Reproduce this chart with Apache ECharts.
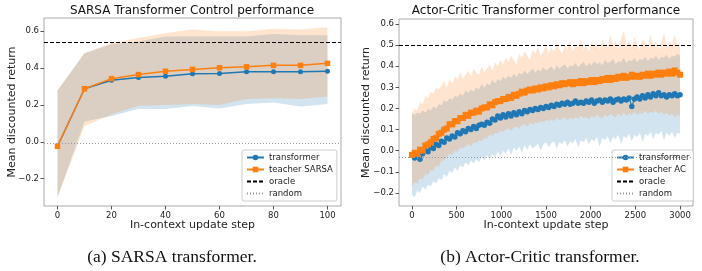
<!doctype html>
<html lang="en">
<head>
    <meta charset="UTF-8">
    <title>SARSA / Actor-Critic transformer</title>
    <script src="https://cdn.jsdelivr.net/npm/echarts@6/dist/echarts.min.js"></script>
    <style>
        html, body { margin: 0; padding: 0; background: #fff; }
        #chart { width: 702px; height: 271px; }
    </style>
</head>
<body>
<div id="chart"></div>
<script>
    // ---- (a) SARSA transformer ----
    const sarsaSteps = [0, 10, 20, 30, 40, 50, 60, 70, 80, 90, 100]
    const sarsaTransformer = [-0.024, 0.288, 0.334, 0.349, 0.356, 0.369, 0.371, 0.38, 0.38, 0.38, 0.383]
    const sarsaTeacher = [-0.024, 0.288, 0.343, 0.365, 0.383, 0.393, 0.402, 0.407, 0.415, 0.415, 0.426]
    const sarsaTransformerHi = [0.279, 0.481, 0.53, 0.545, 0.572, 0.572, 0.572, 0.572, 0.585, 0.578, 0.578]
    const sarsaTransformerLo = [-0.3, 0.11, 0.14, 0.178, 0.178, 0.195, 0.181, 0.205, 0.214, 0.192, 0.205]
    const sarsaTeacherHi = [0.279, 0.481, 0.536, 0.564, 0.591, 0.609, 0.6, 0.6, 0.613, 0.61, 0.622]
    const sarsaTeacherLo = [-0.3, 0.085, 0.15, 0.196, 0.2, 0.205, 0.2, 0.233, 0.236, 0.233, 0.246]
    const sarsaOracle = 0.535
    const sarsaRandom = -0.005
    const sarsaXTicks = [0, 20, 40, 60, 80, 100]
    const sarsaYTicks = [-0.2, 0.0, 0.2, 0.4, 0.6]

    // ---- (b) Actor-Critic transformer (one point every 30 steps) ----
    const acTransformer = [
        -0.02, -0.035, -0.01, -0.04, -0.015, 0.0, -0.005, 0.015, 0.01, 0.03,
        0.025, 0.045, 0.04, 0.06, 0.055, 0.07, 0.065, 0.085, 0.08, 0.095,
        0.09, 0.105, 0.1, 0.115, 0.105, 0.12, 0.125, 0.12, 0.135, 0.13,
        0.15, 0.145, 0.165, 0.155, 0.17, 0.16, 0.175, 0.165, 0.18, 0.17,
        0.185, 0.175, 0.19, 0.185, 0.195, 0.19, 0.2, 0.195, 0.205, 0.2,
        0.21, 0.205, 0.215, 0.21, 0.22, 0.215, 0.225, 0.22, 0.23, 0.22,
        0.225, 0.235, 0.225, 0.23, 0.225, 0.235, 0.23, 0.24, 0.225, 0.235,
        0.24, 0.23, 0.24, 0.235, 0.245, 0.23, 0.24, 0.245, 0.235, 0.245,
        0.24, 0.25, 0.21, 0.245, 0.255, 0.245, 0.26, 0.25, 0.265, 0.255,
        0.27, 0.26, 0.275, 0.26, 0.265, 0.255, 0.265, 0.26, 0.27, 0.26,
        0.265
    ]
    const acTeacher = [
        -0.02, -0.01, -0.015, 0.005, 0.0, 0.025, 0.03, 0.04, 0.055, 0.06,
        0.08, 0.085, 0.1, 0.105, 0.125, 0.125, 0.14, 0.14, 0.155, 0.155,
        0.17, 0.165, 0.18, 0.18, 0.19, 0.185, 0.2, 0.205, 0.205, 0.22,
        0.215, 0.23, 0.235, 0.235, 0.245, 0.245, 0.255, 0.25, 0.265, 0.26,
        0.27, 0.28, 0.275, 0.285, 0.29, 0.285, 0.295, 0.29, 0.3, 0.295,
        0.305, 0.3, 0.31, 0.305, 0.315, 0.31, 0.32, 0.315, 0.32, 0.325,
        0.315, 0.325, 0.32, 0.33, 0.32, 0.33, 0.325, 0.335, 0.325, 0.335,
        0.33, 0.34, 0.335, 0.345, 0.335, 0.345, 0.34, 0.35, 0.345, 0.355,
        0.345, 0.35, 0.36, 0.35, 0.355, 0.35, 0.36, 0.355, 0.365, 0.355,
        0.365, 0.36, 0.37, 0.36, 0.37, 0.365, 0.375, 0.365, 0.38, 0.37,
        0.36
    ]
    const acTransformerHi = [
        0.175, 0.17, 0.18, 0.175, 0.19, 0.18, 0.2, 0.19, 0.21, 0.2,
        0.22, 0.215, 0.24, 0.23, 0.25, 0.24, 0.26, 0.255, 0.27, 0.26,
        0.285, 0.275, 0.29, 0.28, 0.3, 0.29, 0.315, 0.3, 0.32, 0.31,
        0.335, 0.32, 0.34, 0.33, 0.35, 0.34, 0.355, 0.345, 0.365, 0.35,
        0.37, 0.36, 0.38, 0.365, 0.375, 0.39, 0.37, 0.385, 0.375, 0.395,
        0.38, 0.39, 0.4, 0.38, 0.405, 0.39, 0.4, 0.41, 0.39, 0.405,
        0.4, 0.415, 0.395, 0.41, 0.42, 0.4, 0.415, 0.405, 0.425, 0.41,
        0.42, 0.405, 0.43, 0.415, 0.42, 0.435, 0.41, 0.425, 0.42, 0.44,
        0.415, 0.43, 0.425, 0.44, 0.42, 0.435, 0.43, 0.445, 0.425, 0.44,
        0.435, 0.45, 0.43, 0.445, 0.44, 0.455, 0.435, 0.45, 0.445, 0.46,
        0.45
    ]
    const acTransformerLo = [
        -0.21, -0.22, -0.19, -0.2, -0.17, -0.185, -0.16, -0.17, -0.145, -0.155,
        -0.13, -0.14, -0.11, -0.125, -0.095, -0.105, -0.08, -0.095, -0.07, -0.08,
        -0.055, -0.07, -0.045, -0.06, -0.04, -0.055, -0.03, -0.045, -0.02, -0.04,
        -0.015, -0.03, -0.005, -0.025, 0.0, -0.015, 0.01, -0.02, 0.015, 0.0,
        0.02, -0.01, 0.025, 0.005, 0.03, 0.01, 0.02, 0.035, 0.0, 0.03,
        0.04, 0.015, 0.035, 0.045, 0.01, 0.04, 0.03, 0.05, 0.02, 0.045,
        0.035, 0.055, 0.015, 0.05, 0.04, 0.06, 0.03, 0.055, 0.045, 0.065,
        0.02, 0.06, 0.05, 0.07, 0.035, 0.065, 0.055, 0.075, 0.03, 0.07,
        0.06, 0.08, 0.045, 0.075, 0.065, 0.085, 0.04, 0.08, 0.07, 0.09,
        0.055, 0.085, 0.075, 0.095, 0.05, 0.085, 0.07, 0.09, 0.06, 0.085,
        0.08
    ]
    const acTeacherHi = [
        0.175, 0.2, 0.19, 0.23, 0.22, 0.26, 0.25, 0.28, 0.27, 0.3,
        0.29, 0.31, 0.33, 0.3, 0.34, 0.32, 0.35, 0.34, 0.37, 0.34,
        0.36, 0.38, 0.35, 0.39, 0.37, 0.36, 0.4, 0.37, 0.39, 0.41,
        0.38, 0.42, 0.4, 0.43, 0.41, 0.44, 0.42, 0.45, 0.43, 0.41,
        0.46, 0.44, 0.47, 0.45, 0.43, 0.48, 0.46, 0.49, 0.45, 0.47,
        0.5, 0.46, 0.49, 0.47, 0.51, 0.48, 0.46, 0.5, 0.48, 0.52,
        0.47, 0.5, 0.49, 0.53, 0.48, 0.5, 0.47, 0.52, 0.49, 0.51,
        0.48, 0.53, 0.5, 0.49, 0.55, 0.5, 0.52, 0.48, 0.53, 0.57,
        0.5, 0.52, 0.49, 0.54, 0.5, 0.48, 0.53, 0.51, 0.49, 0.55,
        0.5, 0.52, 0.48, 0.51, 0.56, 0.49, 0.52, 0.5, 0.55, 0.5,
        0.49
    ]
    const acTeacherLo = [
        -0.17, -0.15, -0.155, -0.13, -0.135, -0.11, -0.115, -0.09, -0.095, -0.07,
        -0.075, -0.05, -0.045, -0.03, -0.015, -0.02, 0.0, -0.005, 0.015, 0.01,
        0.02, 0.03, 0.02, 0.04, 0.035, 0.05, 0.045, 0.06, 0.055, 0.075,
        0.07, 0.085, 0.08, 0.095, 0.09, 0.1, 0.105, 0.095, 0.11, 0.115,
        0.105, 0.12, 0.125, 0.115, 0.13, 0.125, 0.135, 0.13, 0.14, 0.135,
        0.145, 0.14, 0.15, 0.14, 0.155, 0.145, 0.15, 0.16, 0.145, 0.155,
        0.15, 0.16, 0.15, 0.165, 0.155, 0.16, 0.15, 0.165, 0.155, 0.17,
        0.16, 0.155, 0.17, 0.16, 0.175, 0.165, 0.16, 0.175, 0.165, 0.18,
        0.165, 0.175, 0.17, 0.185, 0.17, 0.18, 0.175, 0.19, 0.175, 0.185,
        0.18, 0.19, 0.175, 0.185, 0.17, 0.18, 0.165, 0.175, 0.16, 0.17,
        0.165
    ]
    const acStepSize = 30
    const acOracle = 0.5
    const acRandom = -0.033
    const acXTicks = [0, 500, 1000, 1500, 2000, 2500, 3000]
    const acYTicks = [-0.2, -0.1, 0.0, 0.1, 0.2, 0.3, 0.4, 0.5, 0.6]

    const acSteps = acTeacher.map((_, i) => i * acStepSize)

    const BLUE = '#1f77b4'
    const ORANGE = '#ff7f0e'
    const FONT = 'DejaVu Sans'

    const pairs = (xs, ys) => xs.map((x, i) => [x, ys[i]])
    const yFmt = v => v.toFixed(1).replace('-', '\u2212')
    const xFmt = v => String(v)

    // shaded band between lo and hi, drawn through the axes' own coord()
    function band(idx, xs, lo, hi, color) {
        return {
            type: 'custom', xAxisIndex: idx, yAxisIndex: idx, silent: true, z: 1,
            data: [[xs[0], lo[0]]],
            renderItem: (params, api) => {
                const pts = xs.map((x, i) => api.coord([x, hi[i]]))
                for (let i = xs.length - 1; i >= 0; i--) pts.push(api.coord([xs[i], lo[i]]))
                return {type: 'polygon', shape: {points: pts}, style: {fill: color}}
            }
        }
    }

    function meanLine(idx, name, xs, ys, color, symbol, size, width) {
        return {
            type: 'line', name, xAxisIndex: idx, yAxisIndex: idx, z: 3,
            data: pairs(xs, ys), symbol, symbolSize: size, showSymbol: true, showAllSymbol: true,
            itemStyle: {color}, lineStyle: {color, width}
        }
    }

    function hLine(idx, name, value, color, dash) {
        return {
            type: 'line', name, xAxisIndex: idx, yAxisIndex: idx, z: 2, data: [],
            symbol: 'none', itemStyle: {color}, lineStyle: {color, width: 1, type: dash},
            markLine: {
                silent: true, symbol: ['none', 'none'], label: {show: false},
                lineStyle: {color, width: 1, type: dash},
                data: [{yAxis: value}]
            }
        }
    }

    function xAxisCfg(idx, min, max, ticks) {
        return {
            type: 'value', gridIndex: idx, min, max,
            name: 'In-context update step', nameLocation: 'middle', nameGap: 14, nameMoveOverlap: false,
            nameTextStyle: {fontFamily: FONT, fontSize: 11, color: '#222'},
            axisLine: {show: false, onZero: false}, splitLine: {show: false},
            axisTick: {show: true, length: 3.5, customValues: ticks, lineStyle: {color: '#555'}},
            axisLabel: {customValues: ticks, margin: 5, fontFamily: FONT, fontSize: 8.5, color: '#222', formatter: xFmt}
        }
    }

    function yAxisCfg(idx, min, max, ticks, gap) {
        return {
            type: 'value', gridIndex: idx, min, max,
            name: 'Mean discounted return', nameLocation: 'middle', nameGap: gap, nameMoveOverlap: false,
            nameTextStyle: {fontFamily: FONT, fontSize: 11, color: '#222'},
            axisLine: {show: false, onZero: false}, splitLine: {show: false},
            axisTick: {show: true, length: 3.5, customValues: ticks, lineStyle: {color: '#555'}},
            axisLabel: {customValues: ticks, margin: 5, fontFamily: FONT, fontSize: 8.5, color: '#222', formatter: yFmt}
        }
    }

    const noMarker = {color: 'rgba(0,0,0,0)', borderWidth: 0}

    function legendCfg(names, left) {
        return {
            data: [
                {name: names[0]},
                {name: names[1]},
                {name: names[2], itemStyle: noMarker},
                {name: names[3], itemStyle: noMarker}
            ],
            orient: 'vertical', left, top: 150,
            itemWidth: 17, itemHeight: 7, itemGap: 3,
            padding: [3, 4, 3, 4],
            backgroundColor: 'rgba(255,255,255,0.8)', borderColor: '#ccc', borderWidth: 1, borderRadius: 2,
            textStyle: {fontFamily: FONT, fontSize: 8.5, color: '#222'},
            selectedMode: false
        }
    }

    const chart = echarts.init(document.getElementById('chart'), null, {renderer: 'canvas'})
    chart.setOption({
        animation: false,
        backgroundColor: '#fff',
        title: [
            {text: 'SARSA Transformer Control performance', left: 192, top: 5, textAlign: 'center', padding: 0,
                textStyle: {fontFamily: FONT, fontSize: 12, fontWeight: 'normal', color: '#111'}},
            {text: 'Actor-Critic Transformer control performance', left: 546, top: 5, textAlign: 'center', padding: 0,
                textStyle: {fontFamily: FONT, fontSize: 12, fontWeight: 'normal', color: '#111'}},
            {text: '(a) SARSA transformer.', left: 172, top: 248, textAlign: 'center', padding: 0,
                textStyle: {fontFamily: 'Liberation Serif', fontSize: 17.5, fontWeight: 'normal', color: '#111'}},
            {text: '(b) Actor-Critic transformer.', left: 540, top: 248, textAlign: 'center', padding: 0,
                textStyle: {fontFamily: 'Liberation Serif', fontSize: 17.5, fontWeight: 'normal', color: '#111'}}
        ],
        grid: [
            {left: 44, top: 18, width: 297, height: 188, show: true, borderColor: '#aaa', borderWidth: 1, backgroundColor: 'transparent'},
            {left: 399, top: 19, width: 294, height: 187, show: true, borderColor: '#aaa', borderWidth: 1, backgroundColor: 'transparent'}
        ],
        xAxis: [xAxisCfg(0, -5, 105, sarsaXTicks), xAxisCfg(1, -145, 3145, acXTicks)],
        yAxis: [yAxisCfg(0, -0.348, 0.672, sarsaYTicks, 26), yAxisCfg(1, -0.262, 0.624, acYTicks, 27.5)],
        legend: [
            legendCfg(['transformer', 'teacher SARSA', 'oracle', 'random'], 242),
            legendCfg(['transformer', 'teacher AC', 'oracle', 'random'], 612)
        ],
        series: [
            band(0, sarsaSteps, sarsaTransformerLo, sarsaTransformerHi, 'rgba(31,119,180,0.2)'),
            band(0, sarsaSteps, sarsaTeacherLo, sarsaTeacherHi, 'rgba(255,127,14,0.2)'),
            meanLine(0, 'transformer', sarsaSteps, sarsaTransformer, BLUE, 'circle', 5, 1.5),
            meanLine(0, 'teacher SARSA', sarsaSteps, sarsaTeacher, ORANGE, 'rect', 5.5, 1.5),
            hLine(0, 'oracle', sarsaOracle, '#000', [4, 2]),
            hLine(0, 'random', sarsaRandom, '#999', [1, 2]),

            band(1, acSteps, acTransformerLo, acTransformerHi, 'rgba(31,119,180,0.2)'),
            band(1, acSteps, acTeacherLo, acTeacherHi, 'rgba(255,127,14,0.2)'),
            meanLine(1, 'transformer', acSteps, acTransformer, BLUE, 'circle', 5.5, 1.2),
            meanLine(1, 'teacher AC', acSteps, acTeacher, ORANGE, 'rect', 6, 1.2),
            hLine(1, 'oracle', acOracle, '#000', [4, 2]),
            hLine(1, 'random', acRandom, '#999', [1, 2])
        ]
    })
</script>
</body>
</html>
